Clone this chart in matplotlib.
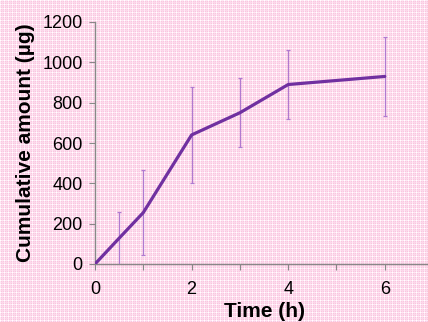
import numpy as np
import matplotlib.pyplot as plt
from matplotlib.ticker import MultipleLocator

# cumulative release over time
time_h = [0, 0.5, 1, 2, 3, 4, 6]
amount_ug = [0, 128, 255, 640, 750, 890, 930]
amount_sd = [0, 132, 212, 240, 172, 170, 195]

plt.rcParams['font.family'] = ['Liberation Sans', 'DejaVu Sans']

W, H = 428, 322
fig = plt.figure(figsize=(W / 100, H / 100), dpi=100)

# pink gingham background
pink = np.array((0.98, 0.78, 0.88))
light = np.array((1.0, 0.91, 0.96))
mid = np.array((0.99, 0.85, 0.92))
bg = np.zeros((H, W, 3))
bg[:, :] = pink
xm = np.arange(W) % 4
ym = np.arange(H) % 4
bg[:, xm == 2] = mid
bg[ym == 2, :] = mid
bg[:, xm == 0] = light
bg[ym == 0, :] = light
bg[np.ix_(ym == 0, xm == 0)] = (1.0, 1.0, 1.0)
bax = fig.add_axes([0, 0, 1, 1])
bax.imshow(bg, aspect='auto', interpolation='nearest')
bax.axis('off')

ax = fig.add_axes([95 / W, 1 - 264 / H, 7 * 48.3 / W, 242 / H])
ax.patch.set_alpha(0)

ax.errorbar(time_h, amount_ug, yerr=amount_sd, fmt='none', ecolor='#b07ad0',
            elinewidth=0.9, capsize=1.5, capthick=0.9, zorder=2)
ax.plot(time_h, amount_ug, color='#7030a0', lw=2.3, zorder=3,
        solid_capstyle='round')

ax.set_xlim(0, 7)
ax.set_ylim(0, 1200)
ax.xaxis.set_major_locator(MultipleLocator(2))
ax.xaxis.set_minor_locator(MultipleLocator(1))
ax.yaxis.set_major_locator(MultipleLocator(200))

for s in ['top', 'right']:
    ax.spines[s].set_visible(False)
for s in ['left', 'bottom']:
    ax.spines[s].set_color('#888888')
    ax.spines[s].set_linewidth(1.0)
ax.tick_params(which='both', direction='out', length=4, width=0.8,
               color='#888888', labelsize=13, pad=5)
ax.tick_params(axis='x', pad=8)

ax.set_xlabel('Time (h)', fontsize=15, fontweight='bold', labelpad=3)
ax.set_ylabel('Cumulative amount (µg)', fontsize=15, fontweight='bold',
              labelpad=5)

fig.savefig('out.png', dpi=100)
